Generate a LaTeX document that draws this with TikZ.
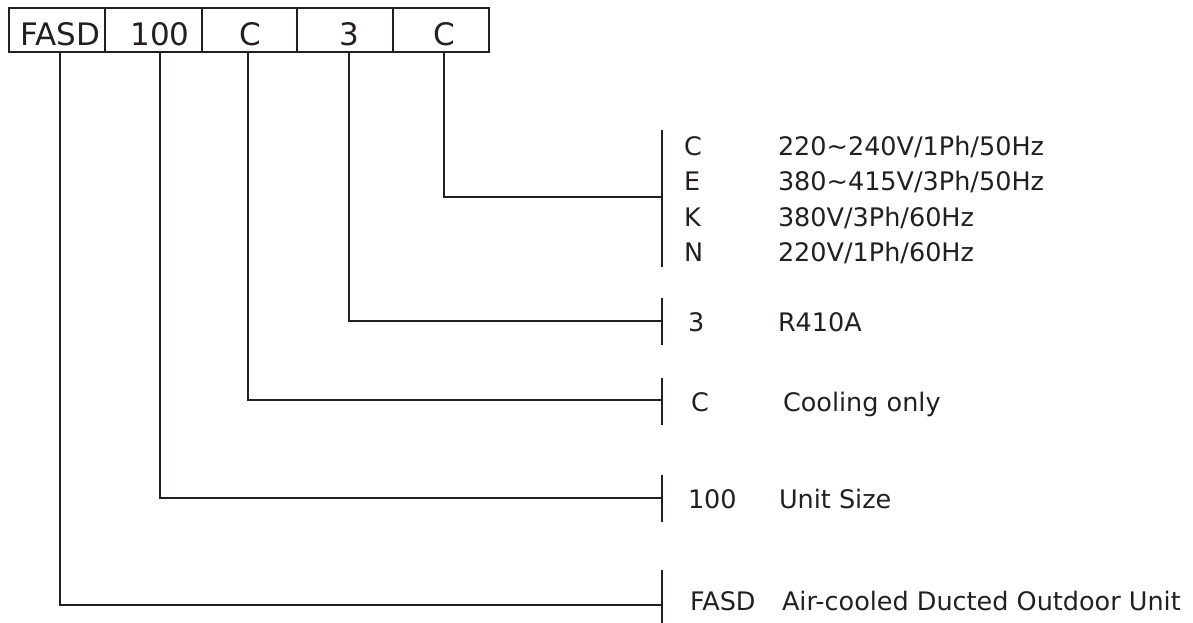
\documentclass[tikz,border=0pt]{standalone}
\usepackage{fontspec}
\setmainfont{DejaVu Sans}
\definecolor{ink}{HTML}{231F20}
\tikzset{
  codebox/.style={draw, rectangle, minimum height=44pt, inner sep=0pt},
  boxtext/.style={anchor=base, inner sep=0pt, font=\fontsize{31}{36}\selectfont},
  keytext/.style={anchor=base west, inner sep=0pt, font=\fontsize{25.5}{30}\selectfont},
  link/.style={line width=2pt},
}
\begin{document}
\begin{tikzpicture}[x=1pt, y=-1pt, line width=2pt, color=ink]
\useasboundingbox (0,0) rectangle (1193,622);

% code boxes
\node[codebox, minimum width=96pt] (b1) at (57,30) {};
\node[codebox, minimum width=97pt] (b2) at (153.5,30) {};
\node[codebox, minimum width=95pt] (b3) at (249.5,30) {};
\node[codebox, minimum width=96pt] (b4) at (345,30) {};
\node[codebox, minimum width=96pt] (b5) at (441,30) {};

\node[boxtext] (t1) at (60,45) {FASD};
\node[boxtext] (t2) at (160,45) {100};
\node[boxtext] (t3) at (250,45) {C};
\node[boxtext] (t4) at (349,45) {3};
\node[boxtext] (t5) at (444,45) {C};

% junction points on the ticks
\coordinate (k5) at (662,197);
\coordinate (k4) at (662,321);
\coordinate (k3) at (662,400);
\coordinate (k2) at (662,498);
\coordinate (k1) at (662,605);

% connectors
\draw[link] (b1.south -| 60,0) |- (k1);
\draw[link] (b2.south -| 160,0) |- (k2);
\draw[link] (b3.south -| 248,0) |- (k3);
\draw[link] (b4.south -| 349,0) |- (k4);
\draw[link] (b5.south -| 444,0) |- (k5);

% ticks
\draw[link] ([yshift=67pt]k5) -- ([yshift=-70pt]k5);
\draw[link] ([yshift=23.5pt]k4) -- ([yshift=-23.5pt]k4);
\draw[link] ([yshift=22pt]k3) -- ([yshift=-25pt]k3);
\draw[link] ([yshift=23pt]k2) -- ([yshift=-24pt]k2);
\draw[link] ([yshift=35pt]k1) -- ([yshift=-20pt]k1);

% key texts
\node[keytext] (c1) at (683,155) {C};
\node[keytext] (c1v) at (777,155) {220\textasciitilde240V/1Ph/50Hz};
\node[keytext] (c2) at (683,190) {E};
\node[keytext] (c2v) at (777,190) {380\textasciitilde415V/3Ph/50Hz};
\node[keytext] (c3) at (683,226) {K};
\node[keytext] (c3v) at (777,226) {380V/3Ph/60Hz};
\node[keytext] (c4) at (683,261) {N};
\node[keytext] (c4v) at (777,261) {220V/1Ph/60Hz};

\node[keytext] (r1) at (687,331) {3};
\node[keytext] (r1v) at (777,331) {R410A};

\node[keytext] (m1) at (690,411) {C};
\node[keytext] (m1v) at (782,411) {Cooling only};

\node[keytext] (s1) at (687,508) {100};
\node[keytext] (s1v) at (778,508) {Unit Size};

\node[keytext] (f1) at (689,610) {FASD};
\node[keytext] (f1v) at (781,610) {Air-cooled Ducted Outdoor Unit};
\end{tikzpicture}
\end{document}
